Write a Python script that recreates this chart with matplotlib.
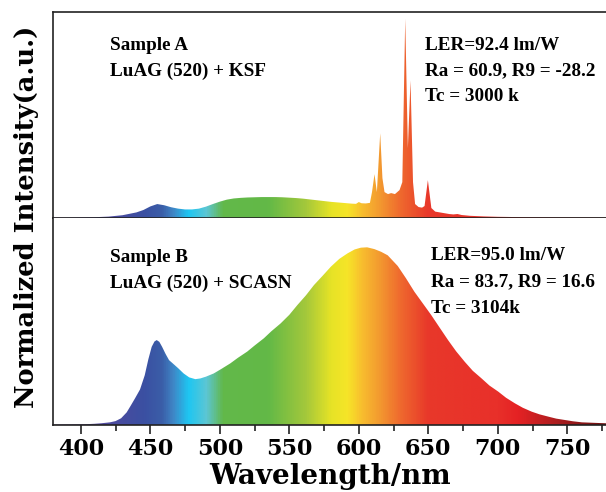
import numpy as np
import matplotlib
matplotlib.use("Agg")
import matplotlib.pyplot as plt
from matplotlib.colors import LinearSegmentedColormap

# ---------------- data ----------------
wl_a = [380, 390, 400, 410, 420, 430, 440, 445, 450, 455, 460, 465, 470, 475, 480,
        485, 490, 495, 500, 505, 510, 515, 520, 525, 530, 535, 540, 545, 550, 555,
        560, 565, 570, 575, 580, 585, 590, 595, 598, 600, 602, 605, 608, 609.5, 611.3,
        613, 615.4, 617, 618.5, 621, 623.3, 626, 629.3, 631.3, 633.4, 635.3, 637.2,
        639, 640.5, 643, 645.5, 647.3, 649.7, 652.2, 655, 660, 665, 668, 671, 674,
        680, 690, 700, 720, 750, 780]
int_a = [0.002, 0.002, 0.003, 0.004, 0.007, 0.014, 0.028, 0.040, 0.058, 0.070, 0.064,
         0.054, 0.047, 0.043, 0.043, 0.047, 0.057, 0.070, 0.082, 0.092, 0.098, 0.101,
         0.103, 0.104, 0.105, 0.105, 0.105, 0.104, 0.102, 0.100, 0.097, 0.093, 0.089,
         0.085, 0.081, 0.078, 0.075, 0.072, 0.071, 0.080, 0.074, 0.073, 0.076, 0.13,
         0.22, 0.13, 0.425, 0.20, 0.13, 0.12, 0.125, 0.12, 0.14, 0.18, 1.0, 0.35, 0.69,
         0.18, 0.07, 0.055, 0.052, 0.06, 0.19, 0.05, 0.032, 0.026, 0.020, 0.018, 0.020,
         0.015, 0.011, 0.008, 0.006, 0.004, 0.003, 0.002]

wl_b = [380, 390, 400, 405, 410, 415, 421, 425, 429, 433, 436, 439, 442.6, 446, 448.6,
        451, 453, 454.6, 456.5, 458.5, 461, 463.5, 466.7, 470, 474, 478, 482.4, 486,
        490, 495.6, 501, 507.6, 513, 519.7, 525, 531.7, 537, 543.8, 550, 555.8, 562,
        567.8, 574, 579.9, 586, 591.9, 597, 601.5, 606, 611.2, 616, 620.8, 628, 634,
        640, 646, 652, 658, 664.2, 670, 676.2, 682, 688.2, 694, 700.3, 706, 712.3, 718,
        724.4, 730, 736.4, 742, 748.4, 754, 760.5, 770, 780]
int_b = [0.002, 0.003, 0.004, 0.005, 0.007, 0.010, 0.015, 0.022, 0.038, 0.071, 0.11,
         0.15, 0.20, 0.28, 0.37, 0.44, 0.47, 0.478, 0.468, 0.44, 0.40, 0.365, 0.343,
         0.32, 0.29, 0.268, 0.258, 0.262, 0.272, 0.29, 0.315, 0.347, 0.378, 0.413,
         0.447, 0.488, 0.527, 0.572, 0.62, 0.675, 0.73, 0.788, 0.84, 0.891, 0.935,
         0.966, 0.988, 0.998, 1.0, 0.99, 0.975, 0.955, 0.895, 0.825, 0.75, 0.685, 0.62,
         0.55, 0.478, 0.415, 0.356, 0.305, 0.263, 0.222, 0.188, 0.153, 0.122, 0.097,
         0.075, 0.06, 0.047, 0.036, 0.028, 0.021, 0.015, 0.012, 0.009]

xticks = [400, 450, 500, 550, 600, 650, 700, 750]

text_a_left = ["Sample A", "LuAG (520) + KSF"]
text_a_right = ["LER=92.4 lm/W", "Ra = 60.9, R9 = -28.2", "Tc = 3000 k"]
text_b_left = ["Sample B", "LuAG (520) + SCASN"]
text_b_right = ["LER=95.0 lm/W", "Ra = 83.7, R9 = 16.6", "Tc = 3104k"]

# ---------------- style ----------------
spec_nodes = [(380, "#7a4aa2"), (420, "#4d4a9e"), (445, "#3b50a2"), (458, "#3a5ea8"),
              (466, "#3f86c6"), (477, "#1ec6f2"), (490, "#5cc6d4"), (502, "#62b84a"),
              (535, "#63b947"), (562, "#a4c83b"), (580, "#e6e326"), (592, "#f6e528"),
              (602, "#f8bf2e"), (615, "#f39a30"), (630, "#ef6a2e"), (650, "#e8382a"),
              (700, "#e8302a"), (715, "#e52224"), (745, "#a81d1f"), (780, "#6a1010")]
lo, hi = 380.0, 780.0
cmap = LinearSegmentedColormap.from_list(
    "spec", [((w - lo) / (hi - lo), c) for w, c in spec_nodes])

tick_font = ["DejaVu Serif Condensed", "DejaVu Serif"]
ann_font = ["Liberation Serif", "DejaVu Serif"]

W, H = 606, 492
fig = plt.figure(figsize=(W / 100, H / 100), dpi=100)
left = 53 / W
width = 556 / W
ax_a = fig.add_axes([left, 1 - 218 / H, width, (218 - 11.7) / H])
ax_b = fig.add_axes([left, 1 - 425 / H, width, (425 - 218) / H])

grad = np.linspace(lo, hi, 1200)[None, :]

def draw(ax, wl, inten, ytop):
    poly = ax.fill_between(wl, 0, inten, facecolor="none", edgecolor="none")
    im = ax.imshow(grad, extent=[lo, hi, 0, ytop], aspect="auto", cmap=cmap,
                   vmin=lo, vmax=hi, origin="lower", interpolation="bilinear")
    path = poly.get_paths()[0]
    im.set_clip_path(path, transform=ax.transData)
    ax.set_xlim(lo, hi)
    ax.set_ylim(0, ytop)
    ax.set_yticks([])
    ax.set_xticks(xticks)
    ax.set_xticks(np.arange(425, 800, 50), minor=True)
    ax.tick_params(axis="x", which="major", direction="out", length=6.5, width=1.2,
                   color="#222222")
    ax.tick_params(axis="x", which="minor", direction="out", length=4.2, width=1.2,
                   color="#222222")
    ax.spines["right"].set_visible(False)
    for s in ax.spines.values():
        s.set_linewidth(1.2)
        s.set_color("#222222")

draw(ax_a, wl_a, int_a, 1.035)
draw(ax_b, wl_b, int_b, 1.165)
ax_a.set_xticklabels([])
ax_b.spines["top"].set_visible(False)
ax_b.set_xticklabels([str(t) for t in xticks], family=tick_font,
                     fontweight="bold", fontsize=16)
ax_b.tick_params(axis="x", which="major", pad=3)

fig.text(330 / W, 1 - 476 / H, "Wavelength/nm", family=tick_font,
         fontweight="bold", fontsize=20, ha="center", va="center")
fig.text(27 / W, 1 - 216.5 / H, "Normalized Intensity(a.u.)", family=tick_font,
         fontweight="bold", fontsize=18.5, ha="center", va="center", rotation=90)

def put(lines, x, ys):
    for s, y in zip(lines, ys):
        fig.text(x / W, 1 - y / H, s, family=ann_font, fontweight="bold",
                 fontsize=13.8, ha="left", va="center")

put(text_a_left, 110, [45, 71.5])
put(text_a_right, 425, [45, 71, 96.7])
put(text_b_left, 110, [257.3, 283.3])
put(text_b_right, 431, [255, 281.7, 308.3])

fig.savefig("out.png", dpi=100)
